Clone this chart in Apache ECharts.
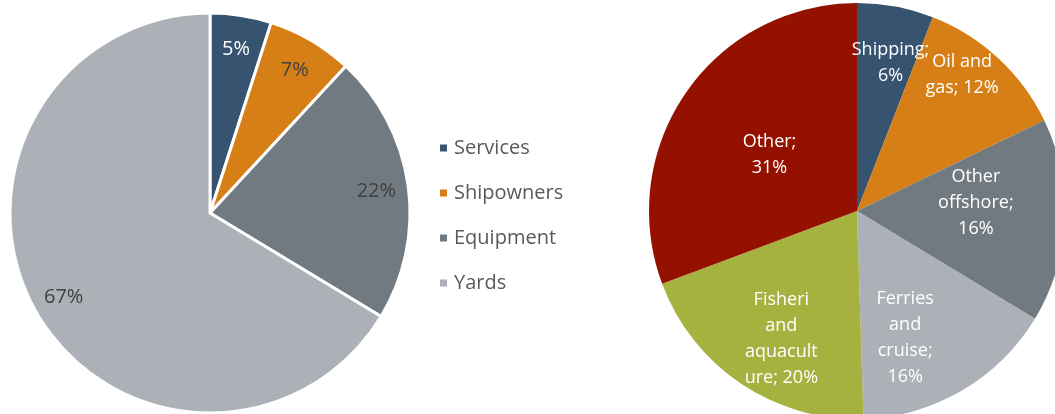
<!DOCTYPE html>
<html><head><meta charset="utf-8">
<script src="https://cdn.jsdelivr.net/npm/echarts@6/dist/echarts.min.js"></script>
<style>html,body{margin:0;padding:0;background:#fff}#c{width:1055px;height:414px}</style>
</head><body><div id="c"></div>
<script>
const leftCategories = ['Services', 'Shipowners', 'Equipment', 'Yards'];
const leftValues = [5, 7, 22, 67];

const rightCategories = ['Shipping', 'Oil and gas', 'Other offshore', 'Ferries and cruise', 'Fisheries and aquaculture', 'Other'];
const rightValues = [6, 12, 16, 16, 20, 31];
const rightLabels = ['Shipping;\n6%', 'Oil and\ngas; 12%', 'Other\noffshore;\n16%', 'Ferries\nand\ncruise;\n16%', 'Fisheri\nand\naquacult\nure; 20%', 'Other;\n31%'];

// styling
const leftColors = ['#36546F', '#D77F17', '#717981', '#ABB1B7'];
const leftLabelColors = ['#ffffff', '#404040', '#404040', '#404040'];
const rightColors = ['#36546F', '#D77F17', '#717981', '#ABB1B7', '#A6B240', '#941100'];
const rightLabelNudges = [[7, -8], [8, -31], [-24, -15], [-24, 3], [4, 9], [30, 25]];

const font = 'Open Sans';
const chart = echarts.init(document.getElementById('c'), null, {renderer: 'canvas'});
chart.setOption({
  animation: false,
  legend: {
    data: leftCategories,
    orient: 'vertical',
    left: 433, top: 133,
    itemWidth: 9, itemHeight: 9, itemGap: 25,
    icon: 'rect',
    textStyle: {fontFamily: font, fontSize: 20, color: '#595959', padding: [0,0,0,1]}
  },
  series: [
    {
      type: 'pie', center: [210, 213], radius: [0, 200],
      startAngle: 90, clockwise: true, silent: true,
      data: leftCategories.map((n, i) => ({name: n, value: leftValues[i], itemStyle: {color: leftColors[i]}})),
      itemStyle: {borderColor: '#fff', borderWidth: 3},
      label: {show: false}, labelLine: {show: false}
    },
    {
      type: 'pie', center: [210, 215], radius: [0, 330],
      startAngle: 90, clockwise: true, silent: true, legendHoverLink: false,
      avoidLabelOverlap: false, labelLayout: {hideOverlap: false},
      data: leftCategories.map((n, i) => ({name: n + ' ', value: leftValues[i],
        itemStyle: {color: 'rgba(0,0,0,0)'},
        label: {color: leftLabelColors[i]}})),
      itemStyle: {borderWidth: 0},
      label: {show: true, position: 'inside', fontFamily: font, fontSize: 20,
        formatter: p => p.value + '%'},
      labelLine: {show: false}
    },
    {
      type: 'pie', center: [857, 211], radius: [0, 208],
      startAngle: 90, clockwise: true, silent: true,
      data: rightCategories.map((n, i) => ({name: n, value: rightValues[i], itemStyle: {color: rightColors[i]}})),
      itemStyle: {borderWidth: 0},
      label: {show: false}, labelLine: {show: false}
    },
    {
      type: 'pie', center: [857, 211], radius: [0, 280],
      startAngle: 90, clockwise: true, silent: true,
      avoidLabelOverlap: false, labelLayout: {hideOverlap: false},
      data: rightCategories.map((n, i) => ({name: n + '  ', value: rightValues[i],
        itemStyle: {color: 'rgba(0,0,0,0)'}, label: {formatter: rightLabels[i], offset: rightLabelNudges[i]}})),
      itemStyle: {borderWidth: 0},
      label: {show: true, position: 'inside', fontFamily: font, fontSize: 18, color: '#fff', lineHeight: 26, align: 'center'},
      labelLine: {show: false}
    }
  ]
});
</script></body></html>
